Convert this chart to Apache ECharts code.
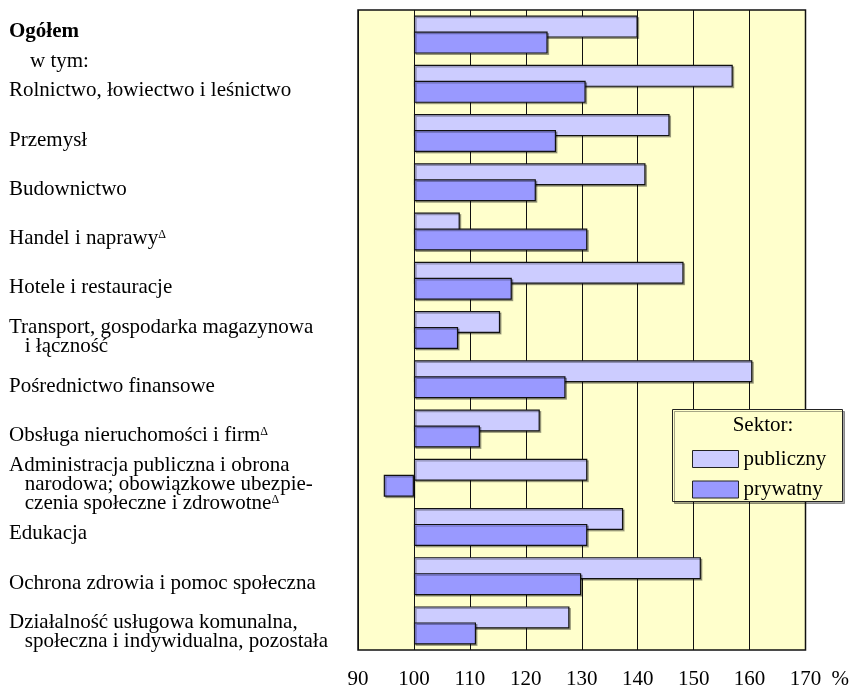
<!DOCTYPE html>
<html><head><meta charset="utf-8">
<script src="https://cdn.jsdelivr.net/npm/echarts@6/dist/echarts.min.js"></script>
<style>html,body{margin:0;padding:0;background:#fff}#c{width:852px;height:690px}</style>
</head><body><div id="c"></div>
<script>
// ---- data ----
const categories = [
  'Ogółem',
  'Rolnictwo, łowiectwo i leśnictwo',
  'Przemysł',
  'Budownictwo',
  'Handel i naprawy',
  'Hotele i restauracje',
  'Transport, gospodarka magazynowa\n   i łączność',
  'Pośrednictwo finansowe',
  'Obsługa nieruchomości i firm',
  'Administracja publiczna i obrona\n   narodowa; obowiązkowe ubezpie-\n   czenia społeczne i zdrowotne',
  'Edukacja',
  'Ochrona zdrowia i pomoc społeczna',
  'Działalność usługowa komunalna,\n   społeczna i indywidualna, pozostała'
];
const subNote = 'w tym:';
const deltaMarked = [false,false,false,false,true,false,false,false,true,true,false,false,false];
const publiczny = [140.0, 157.0, 145.7, 141.4, 108.2, 148.2, 115.4, 160.5, 122.5, 131.0, 137.4, 151.3, 127.8];
const prywatny  = [123.9, 130.7, 125.4, 121.8, 131.0, 117.5, 107.9, 127.1, 111.8, 94.6, 131.0, 129.9, 111.1];
const baseLevel = 100;
const xMin = 90, xMax = 170, xStep = 10;
const unitLabel = '%';
const legendTitle = 'Sektor:';
const seriesNames = ['publiczny', 'prywatny'];

// ---- derived ----
const baseArr = categories.map(() => baseLevel);
const pubDelta = publiczny.map(v => +(v - baseLevel).toFixed(2));
const privDelta = prywatny.map(v => +(v - baseLevel).toFixed(2));

const FONT = 'Liberation Serif, Times New Roman, serif';
const chart = echarts.init(document.getElementById('c'), null, {renderer: 'canvas'});

function catLabel(value) {
  const i = categories.indexOf(value);
  if (i === 0) return '{b|' + value + '}\n{w|    ' + subNote + '}';
  const lines = value.split('\n');
  return lines.map((l, k) => '{n|' + l + '}' + ((k === lines.length - 1 && deltaMarked[i]) ? '{s|Δ}' : '')).join('\n');
}
function xLabel(v) {
  if (v === xMax) return '{h|}{t|' + v + '}{u|' + unitLabel + '}';
  return '{t|' + v + '}';
}

const barCommon = {
  type: 'bar',
  barWidth: 22,
  barGap: '-27.3%',
  stackStrategy: 'all'
};
const hidden = {color: 'rgba(0,0,0,0)', borderWidth: 0};

chart.setOption({
  animation: false,
  backgroundColor: '#fff',
  grid: {left: 358, top: 10, right: 46, bottom: 40, show: true, backgroundColor: '#FFFFCC', borderColor: '#111', borderWidth: 1.5, z: 0},
  xAxis: {
    type: 'value', min: xMin, max: xMax, interval: xStep,
    axisLine: {show: false}, axisTick: {show: false},
    splitLine: {show: true, lineStyle: {color: '#111', width: 1}},
    axisLabel: {
      formatter: xLabel, margin: 19,
      rich: {
        t: {fontFamily: FONT, fontSize: 21, color: '#000'},
        h: {width: 30},
        u: {fontFamily: FONT, fontSize: 21, color: '#000', width: 22, padding: [0, 0, 0, 8]}
      }
    }
  },
  yAxis: {
    type: 'category', data: categories, inverse: true,
    axisLine: {show: false}, axisTick: {show: false}, splitLine: {show: false},
    axisLabel: {
      formatter: catLabel, align: 'left', margin: 349, padding: [14, 0, 0, 0], interval: 0,
      rich: {
        n: {fontFamily: FONT, fontSize: 21, color: '#000', lineHeight: 19},
        b: {fontFamily: FONT, fontSize: 21, color: '#000', fontWeight: 'bold', lineHeight: 39},
        w: {fontFamily: FONT, fontSize: 21, color: '#000', lineHeight: 21},
        s: {fontFamily: FONT, fontSize: 12, color: '#000', lineHeight: 8, verticalAlign: 'top'}
      }
    }
  },
  legend: {
    orient: 'vertical', left: 687, top: 443.5, itemWidth: 46, itemHeight: 17, itemGap: 9.5,
    data: seriesNames, icon: 'rect', selectedMode: false, z: 5,
    itemStyle: {borderColor: '#222', borderWidth: 1},
    textStyle: {fontFamily: FONT, fontSize: 21, color: '#000', lineHeight: 21}
  },
  graphic: [
    {type: 'rect', z: 4, shape: {x: 672.5, y: 409.5, width: 170, height: 92},
     style: {fill: '#FFFFCC', stroke: '#222', lineWidth: 1, shadowColor: 'rgba(0,0,0,0.35)', shadowOffsetX: 2, shadowOffsetY: 2, shadowBlur: 0}},
    {type: 'text', z: 5, x: 763, y: 425, style: {text: legendTitle, fontFamily: FONT, fontSize: 21, fill: '#000', textAlign: 'center', textVerticalAlign: 'middle'}}
  ],
  series: [
    Object.assign({}, barCommon, {name: '_b1', stack: 'pub', data: baseArr, itemStyle: hidden, silent: true, z: 1}),
    Object.assign({}, barCommon, {name: seriesNames[0], stack: 'pub', data: pubDelta, z: 2,
      itemStyle: {color: '#CCCCFF', borderColor: '#111', borderWidth: 1.2, shadowColor: 'rgba(0,0,0,0.3)', shadowOffsetX: 1.5, shadowOffsetY: 1.5}}),
    Object.assign({}, barCommon, {name: '_b2', stack: 'priv', data: baseArr, itemStyle: hidden, silent: true, z: 1}),
    Object.assign({}, barCommon, {name: seriesNames[1], stack: 'priv', data: privDelta, z: 3,
      itemStyle: {color: '#9999FF', borderColor: '#111', borderWidth: 1.2, shadowColor: 'rgba(0,0,0,0.3)', shadowOffsetX: 1.5, shadowOffsetY: 1.5}})
  ]
});
</script>
</body></html>
